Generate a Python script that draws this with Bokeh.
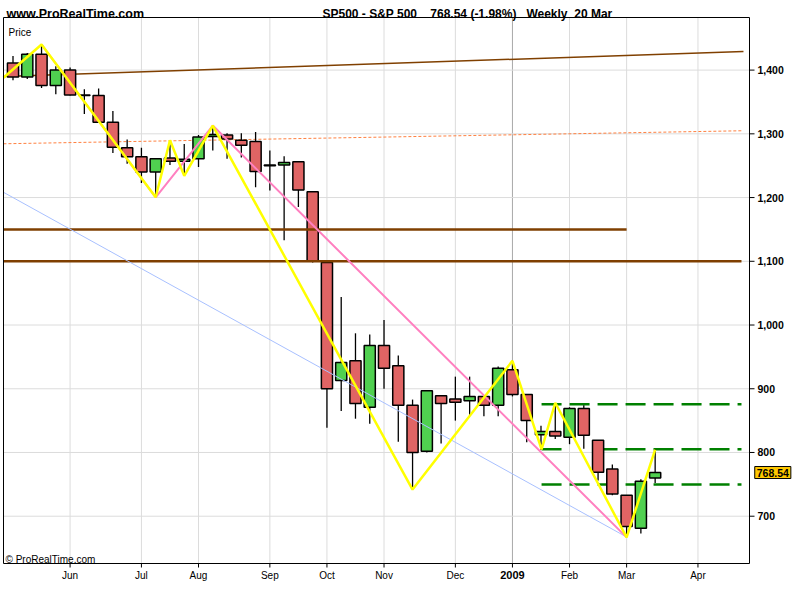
from bokeh.plotting import figure
from bokeh.models import Range1d, FixedTicker, Label, NumeralTickFormatter, ColumnDataSource
from bokeh.embed import file_html
from bokeh.resources import INLINE

# ---------------- data (weekly S&P 500, week ending 9 May 2008 .. 20 Mar 2009) -------------
opens = [1411, 1389, 1425, 1376, 1400, 1361, 1360, 1318, 1278, 1264,
         1240, 1262, 1257, 1261, 1296, 1298, 1290, 1288, 1250, 1251,
         1256, 1209, 1098, 913, 944, 871, 968, 936, 874, 802,
         889, 884, 881, 888, 874, 930, 891, 828, 833, 824,
         869, 819, 774, 733, 681, 760]
highs = [1422, 1427, 1440, 1406, 1404, 1370, 1371, 1336, 1291, 1278,
         1262, 1289, 1284, 1298, 1313, 1301, 1301, 1303, 1274, 1265,
         1256, 1209, 1098, 1044, 987, 985, 1008, 952, 883, 897,
         889, 919, 919, 888, 935, 944, 891, 842, 877, 871,
         874, 819, 781, 733, 758, 805]
lows = [1384, 1386, 1372, 1362, 1360, 1331, 1317, 1270, 1253, 1223,
        1200, 1251, 1234, 1248, 1274, 1261, 1263, 1216, 1211, 1133,
        1185, 1098, 839, 865, 853, 845, 900, 817, 742, 800,
        814, 850, 858, 857, 857, 888, 816, 804, 821, 813,
        806, 756, 733, 667, 673, 752]
closes = [1389, 1425, 1376, 1400, 1361, 1360, 1318, 1279, 1264, 1240,
          1261, 1257, 1260, 1295, 1299, 1292, 1282, 1241, 1251, 1255,
          1212, 1101, 900, 941, 877, 968, 932, 874, 800, 897,
          877, 879, 888, 874, 932, 891, 850, 833, 826, 869,
          827, 769, 735, 684, 755, 768.54]

tick_pos = [4, 9, 13, 18, 22, 26, 31, 35, 39, 43, 48]
tick_labels = ["Jun", "Jul", "Aug", "Sep", "Oct", "Nov", "Dec", "2009", "Feb", "Mar", "Apr"]
price_ticks = [700, 800, 900, 1000, 1100, 1200, 1300, 1400]

# drawn analysis objects (week index, price)
pink_x = [2, 10, 14, 43]
pink_y = [1440.2, 1200.4, 1313, 666.8]
yellow_x = [-0.67, 2, 10, 11, 12, 14, 28, 35, 37.04, 38, 43, 45]
yellow_y = [1388, 1440.2, 1200.4, 1290, 1234, 1313, 741.8, 943.9, 805, 878, 666.8, 804.5]
blue_x = [-0.67, 43.04]
blue_y = [1208.3, 666.8]
brown_x = [-0.67, 51.19]
brown_y = [1390.0, 1429.2]
orange_x = [-0.67, 51.05]
orange_y = [1284.4, 1304.8]
hlevels = [1150, 1100]
hlevel_end = [43.0, 51.05]
green_levels = [875.8, 805.1, 749.8]
last_price = 768.54

NB = "\u00a0"
title_text = ("SP500 - S&P 500" + NB * 4 + "768.54 (-1.98%)" + NB * 3 + "Weekly" + NB * 2 + "20 Mar")

# ---------------- geometry: page pixel -> data -------------
PX_PER_WEEK = 14.27
PX_PER_PT = 0.6373


def dx(px):
    return (px - 12.5) / PX_PER_WEEK


def dy(py):
    return 1400 - (py - 69.6) / PX_PER_PT


W, H = 798, 598
FR, FB = 796, 596                       # bokeh frame right / bottom (page px)
XL, XR = dx(3), dx(749)                 # chart box
YT, YB = dy(17), dy(563)

RED = "#E06464"
GREEN = "#50D050"

p = figure(width=W, height=H, x_range=Range1d(dx(0), dx(FR)), y_range=Range1d(dy(FB), dy(0)),
           output_backend="svg", toolbar_location=None, y_axis_location="right",
           min_border_left=0, min_border_right=W - FR, min_border_top=0, min_border_bottom=H - FB)
p.outline_line_color = None
p.background_fill_color = "white"
p.border_fill_color = "white"
p.grid.visible = False

# real axes: labels pulled into place next to the chart box
p.xaxis.ticker = FixedTicker(ticks=tick_pos)
p.xaxis.major_label_overrides = {t: (lab if lab != "2009" else "") for t, lab in zip(tick_pos, tick_labels)}
p.xaxis.major_tick_out = 0
p.xaxis.major_tick_in = 0
p.xaxis.minor_tick_line_color = None
p.xaxis.major_tick_line_color = None
p.xaxis.axis_line_color = None
p.xaxis.major_label_text_font = "Liberation Sans"
p.xaxis.major_label_text_font_size = "10px"
p.xaxis.major_label_text_color = "black"
p.xaxis.major_label_standoff = 569 - FB

p.yaxis.ticker = FixedTicker(ticks=price_ticks)
p.yaxis.formatter = NumeralTickFormatter(format="0,0")
p.yaxis.major_tick_out = 0
p.yaxis.major_tick_in = 0
p.yaxis.minor_tick_line_color = None
p.yaxis.major_tick_line_color = None
p.yaxis.axis_line_color = None
p.yaxis.major_label_text_font = "Liberation Sans"
p.yaxis.major_label_text_font_style = "bold"
p.yaxis.major_label_text_font_size = "10.5px"
p.yaxis.major_label_text_color = "black"
p.yaxis.major_label_standoff = 757 - FR

# grid lines inside the chart box
p.segment(x0=tick_pos, y0=[YB] * len(tick_pos), x1=tick_pos, y1=[YT] * len(tick_pos),
          line_color=["#A8A8A8" if t == 35 else "#DCDCDC" for t in tick_pos], line_width=1)
p.segment(x0=[XL] * len(price_ticks), y0=price_ticks, x1=[XR] * len(price_ticks), y1=price_ticks,
          line_color="#DCDCDC", line_width=1)

# tick marks
p.segment(x0=[XR] * len(price_ticks), y0=price_ticks, x1=[XR + 5 / PX_PER_WEEK] * len(price_ticks),
          y1=price_ticks, line_color="black", line_width=1)
p.segment(x0=tick_pos, y0=[YB] * len(tick_pos), x1=tick_pos, y1=[YB - 4 / PX_PER_PT] * len(tick_pos),
          line_color="black", line_width=1)

# lines below candles
p.line(orange_x, orange_y, line_color="#FF8040", line_width=1, line_dash="3 2")
p.line(brown_x, brown_y, line_color="#804000", line_width=1.5)
for lev in green_levels:
    if abs(lev - 805.1) < 1:
        p.line([37.04, 38.44], [lev, lev], line_color="#008000", line_width=2.5, line_dash="20 8")
        p.line([40.96, 51.05], [lev, lev], line_color="#008000", line_width=2.5, line_dash="20 8")
    else:
        p.line([37.04, 51.05], [lev, lev], line_color="#008000", line_width=2.5, line_dash="20 8")

# candles
idx = list(range(len(opens)))
src = ColumnDataSource(dict(
    x=idx, o=opens, h=highs, l=lows, c=closes,
    top=[max(o, c) for o, c in zip(opens, closes)],
    bot=[min(o, c) for o, c in zip(opens, closes)],
    col=[GREEN if c >= o else RED for o, c in zip(opens, closes)],
))
p.segment(x0="x", y0="l", x1="x", y1="h", source=src, line_color="black", line_width=1.3)
p.vbar(x="x", top="top", bottom="bot", width=0.78, source=src,
       fill_color="col", line_color="black", line_width=1.5)

# lines above candles
for lev, end in zip(hlevels, hlevel_end):
    p.line([-0.67, end], [lev, lev], line_color="#7F3F00", line_width=2.5)
p.line(blue_x, blue_y, line_color="#A8C0FF", line_width=1)
p.line(pink_x, pink_y, line_color="#FF80C0", line_width=2)
p.line(yellow_x, yellow_y, line_color="#FFFF00", line_width=2.5)

# chart box border
p.quad(left=[XL], right=[XR], bottom=[YB], top=[YT], fill_color=None, line_color="black", line_width=1)


# texts
def lab(px, py, text, size, bold=False, align="left", baseline="alphabetic", **kw):
    p.add_layout(Label(x=dx(px), y=dy(py), text=text, text_font="Liberation Sans",
                       text_font_size=size, text_font_style="bold" if bold else "normal",
                       text_align=align, text_baseline=baseline, text_color="black", **kw))


lab(6, 13.5, "www.ProRealTime.com", "12.5px", bold=True)
lab(322, 13.5, title_text, "12px", bold=True)
lab(8, 31.5, "Price", "10px")
lab(5, 559, "\u00a9 ProRealTime.com", "10px")
p.add_layout(Label(x=35, y=dy(574), text="2009", text_font="Liberation Sans", text_font_size="11px",
                   text_font_style="bold", text_align="center", text_baseline="middle", text_color="black"))
p.add_layout(Label(x=dx(772.3), y=last_price, text="768.54", text_font="Liberation Sans",
                   text_font_size="10.5px", text_font_style="bold", text_align="center",
                   text_baseline="middle", text_color="black", background_fill_color="#FFC800",
                   border_line_color="black", border_line_width=1, padding=2))

open("out.html", "w").write(file_html(p, INLINE))
